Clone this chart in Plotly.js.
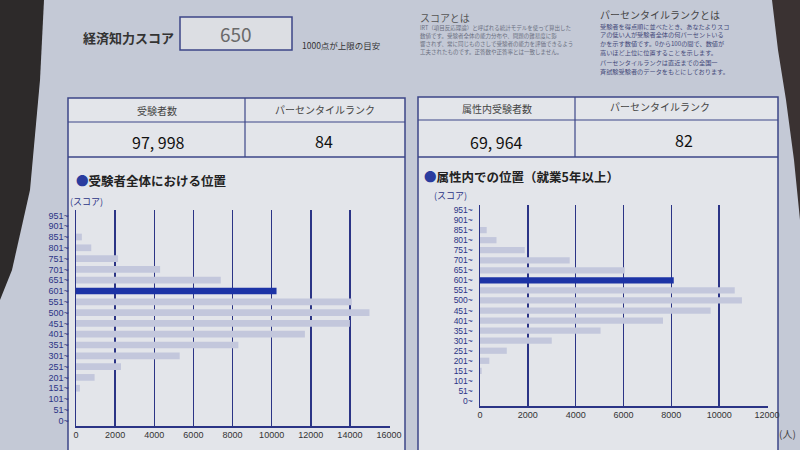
<!DOCTYPE html>
<html>
<head>
<meta charset="utf-8">
<script src="https://cdn.plot.ly/plotly-3.0.1.min.js"></script>
<style>html,body{margin:0;padding:0;background:#c4c9d6;}#chart{width:800px;height:450px;}</style>
</head>
<body>
<div id="chart"></div>
<script>
// ---- data ----
const scoreBins = ['0~','51~','101~','151~','201~','251~','301~','351~','401~','451~',
                   '500~','551~','601~','651~','701~','751~','801~','851~','901~','951~'];
const allExaminees = [0,0,0,200,950,2300,5300,8300,11700,14000,15000,14100,10250,7400,4300,2150,780,300,0,0];
const attrExaminees = [0,0,0,70,390,1120,3000,5040,7650,9640,10950,10650,8100,6050,3750,1870,690,280,0,0];
const myBin = '601~';
const myScore = '650';
const totalCount = '97, 998';
const totalRank = '84';
const attrCount = '69, 964';
const attrRank = '82';

const NAVY = '#2b3486', BAR = '#c3c7dc', HI = '#1c33a6';
const FONT = '"Noto Sans CJK JP", "Noto Sans", sans-serif';
const TICKFONT = '"Liberation Sans", Arial, sans-serif';
const px = x => x / 800, py = y => 1 - y / 450;

function rect(x0, y0, x1, y1, fill, line, w) {
  return {type:'rect', xref:'paper', yref:'paper', x0:px(x0), x1:px(x1), y0:py(y1), y1:py(y0),
          fillcolor: fill || 'rgba(0,0,0,0)', line:{color: line || 'rgba(0,0,0,0)', width: w || 0}, layer:'below'};
}
function hline(x0, x1, y, c, w) {
  return {type:'line', xref:'paper', yref:'paper', x0:px(x0), x1:px(x1), y0:py(y), y1:py(y), line:{color:c, width:w}, layer:'below'};
}
function vline(x, y0, y1, c, w) {
  return {type:'line', xref:'paper', yref:'paper', x0:px(x), x1:px(x), y0:py(y0), y1:py(y1), line:{color:c, width:w}, layer:'below'};
}
function txt(x, y, t, size, color, anchor, extra) {
  return Object.assign({xref:'paper', yref:'paper', x:px(x), y:py(y), text:t, showarrow:false,
          xanchor: anchor || 'center', yanchor:'middle', font:{family:FONT, size:size, color:color || '#333'}}, extra || {});
}
function path(points, fill) {
  let d = 'M' + points.map(p => px(p[0]) + ',' + py(p[1])).join(' L') + ' Z';
  return {type:'path', xref:'paper', yref:'paper', path:d, fillcolor:fill, line:{width:0}, layer:'below'};
}

const traces = [
  {type:'bar', orientation:'h', y:scoreBins, x:allExaminees, xaxis:'x', yaxis:'y',
   marker:{color: scoreBins.map(b => b === myBin ? HI : BAR)}, width:0.62, hoverinfo:'x+y'},
  {type:'bar', orientation:'h', y:scoreBins, x:attrExaminees, xaxis:'x2', yaxis:'y2',
   marker:{color: scoreBins.map(b => b === myBin ? HI : BAR)}, width:0.62, hoverinfo:'x+y'}
];

const xCommon = {showgrid:true, gridcolor:NAVY, gridwidth:1.5, showline:true, linecolor:NAVY, linewidth:1.5,
  zeroline:false, dtick:2000, tick0:0, tickformat:'d', ticks:'', tickfont:{family:TICKFONT, size:9, color:'#333'}, fixedrange:true};
const yCommon = {type:'category', categoryorder:'array', categoryarray:scoreBins, range:[-0.5, 19.5],
  tickmode:'linear', tick0:0, dtick:1,
  showgrid:false, showline:true, linecolor:NAVY, linewidth:1.5, ticks:'', zeroline:false,
  ticklabelstandoff:4, fixedrange:true};

const shapes = [
  // dark background outside the paper
  path([[0,0],[44,0],[40,80],[30,190],[12,270],[0,300]], '#2d2a2a'),
  path([[772,0],[800,0],[800,220],[794,160],[786,100],[778,50]], '#3a3232'),
  // score box
  rect(180, 17, 292, 50, '#dcdee3', '#3c4688', 1.5),
  // left panel
  rect(68, 98, 405, 452, '#e3e5ea', '#3c4688', 1.5),
  hline(68, 405, 122, '#3c4688', 1.2),
  hline(68, 405, 157, '#3c4688', 1.5),
  vline(245, 98, 157, '#3c4688', 1.2),
  // right panel
  rect(418, 97, 778, 452, '#e3e5ea', '#3c4688', 1.5),
  hline(418, 778, 120, '#3c4688', 1.2),
  hline(418, 778, 157, '#3c4688', 1.5),
  vline(575, 97, 157, '#3c4688', 1.2)
];

const scoreText = ['IRT（項目反応理論）と呼ばれる統計モデルを使って算出した',
  '数値です。受験者全体の能力分布や、問題の難易度に影',
  '響されず、常に同じものさしで受験者の能力を評価できるよう',
  '工夫されたものです。正答数や正答率とは一致しません。'];
const prText = ['受験者を得点順に並べたとき、あなたよりスコ',
  'アの低い人が受験者全体の何パーセントいる',
  'かを示す数値です。0から100の間で、数値が',
  '高いほど上位に位置することを示します。',
  'パーセンタイルランクは直近までの全国一',
  '斉試験受験者のデータをもとにしております。'];

const annotations = [
  txt(128, 38, '<b>経済知力スコア</b>', 13, '#333'),
  txt(236, 33, myScore, 19, '#6a6a6a'),
  txt(300, 45, '1000点が上限の目安', 8.5, '#333', 'left'),
  txt(418, 17, 'スコアとは', 10, '#555', 'left'),
  txt(598, 15, 'パーセンタイルランクとは', 10, '#444', 'left'),
  txt(157, 110, '受験者数', 10, '#444'),
  txt(325, 109, 'パーセンタイルランク', 10, '#444'),
  txt(158, 142, totalCount, 16, '#111'),
  txt(324, 141, totalRank, 16, '#111'),
  txt(497, 108, '属性内受験者数', 10, '#444'),
  txt(660, 107, 'パーセンタイルランク', 10, '#444'),
  txt(496, 142, attrCount, 16, '#111'),
  txt(684, 140, attrRank, 16, '#111'),
  txt(74, 180, '<span style="color:#2a3c9e">●</span><b>受験者全体における位置</b>', 12.5, '#222', 'left'),
  txt(422, 176, '<span style="color:#2a3c9e">●</span><b>属性内での位置（就業5年以上）</b>', 12.5, '#222', 'left'),
  txt(68, 201, '(スコア)', 9, NAVY, 'left'),
  txt(432, 196, '(スコア)', 9, NAVY, 'left'),
  txt(787, 433, '(人)', 10, '#444')
];
scoreText.forEach((t, i) => annotations.push(txt(418, 28 + i * 8, t, 5.5, '#6a6f80', 'left')));
prText.forEach((t, i) => annotations.push(txt(598, 26 + i * 9, t, 6.2, '#44497a', 'left')));

const layout = {
  width:800, height:450, margin:{l:0, r:0, t:0, b:0},
  paper_bgcolor:'#c4c9d6', plot_bgcolor:'rgba(0,0,0,0)',
  showlegend:false, bargap:0.38,
  font:{family:FONT},
  xaxis: Object.assign({}, xCommon, {domain:[px(76), px(390)], range:[0, 16050], anchor:'y'}),
  yaxis: Object.assign({}, yCommon, {domain:[py(426), py(210)], anchor:'x',
          tickfont:{family:TICKFONT, size:9, color:NAVY}}),
  xaxis2: Object.assign({}, xCommon, {domain:[px(480), px(768)], range:[0, 12040], anchor:'y2'}),
  yaxis2: Object.assign({}, yCommon, {domain:[py(406), py(205)], anchor:'x2',
          tickfont:{family:TICKFONT, size:8.5, color:NAVY}}),
  shapes: shapes,
  annotations: annotations
};

Plotly.newPlot('chart', traces, layout, {displayModeBar:false, staticPlot:true});
</script>
</body>
</html>
